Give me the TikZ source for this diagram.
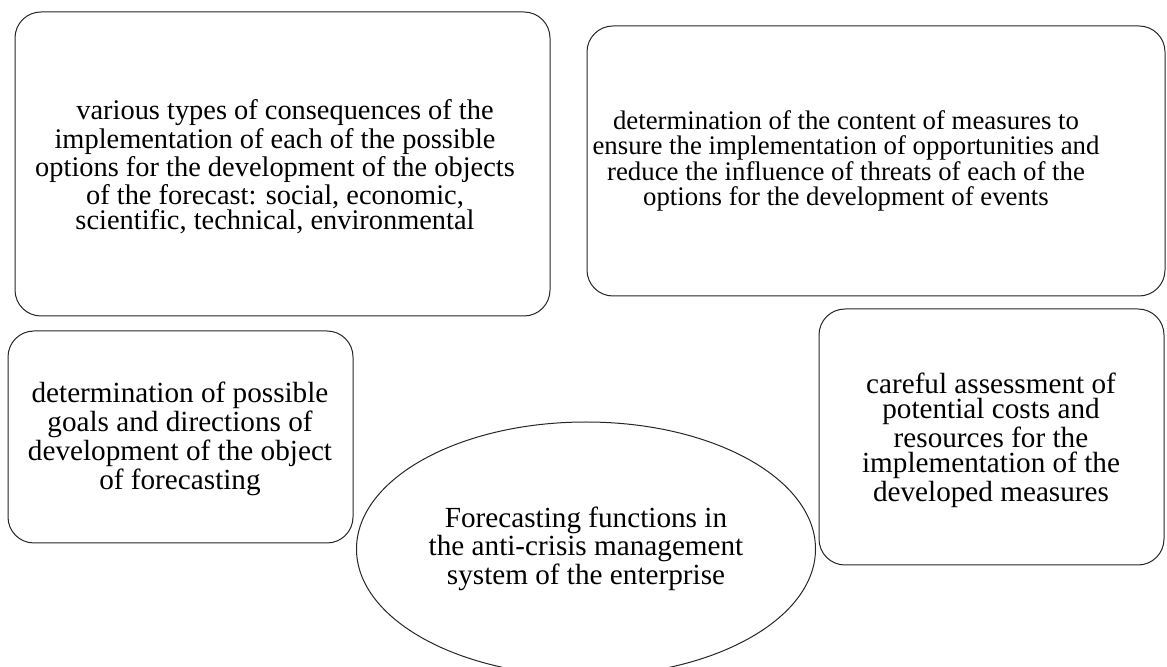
\documentclass[tikz,border=0pt]{standalone}
\usepackage{fontspec}
\setmainfont{Liberation Serif}
\usetikzlibrary{shapes.geometric}
\tikzset{
  funcbox/.style={draw=black!85, line width=0.5pt, rounded corners=13pt},
  functext/.style={align=center, inner sep=0pt,
    font=\fontsize{#1}{12.75}\selectfont},
  functext/.default=14.6,
}

\begin{document}
\begin{tikzpicture}[x=0.5pt,y=-0.5pt]
\useasboundingbox (0,0) rectangle (1167,667);
\clip (0,0) rectangle (1167,667);
% the four boxes
\draw[funcbox] (15,12) rectangle (550,316);
\draw[funcbox] (587,26) rectangle (1165,296);
\draw[funcbox] (8,331) rectangle (353,543);
\draw[funcbox] (819,309) rectangle (1164,565);

\node[functext=14.2] (conseq) at (275,167)
  {\hspace*{10pt}various types of consequences of the\\
   implementation of each of the possible\\
   options for the development of the objects\\
   of the forecast: social, economic,\\
   scientific, technical, environmental};
\node[functext=13.4] (measures) at (846,161)
  {determination of the content of measures to\\
   ensure the implementation of opportunities and\\
   reduce the influence of threats of each of the\\
   options for the development of events};
\node[functext] (goals) at (180,439)
  {determination of possible\\
   goals and directions of\\
   development of the object\\
   of forecasting};
\node[functext] (costs) at (991,440)
  {careful assessment of\\
   potential costs and\\
   resources for the\\
   implementation of the\\
   developed measures};

% centre
\node[functext, draw=black!85, line width=0.5pt, ellipse,
  minimum width=229.5pt, minimum height=127pt] (func) at (586,549)
  {Forecasting functions in\\
   the anti-crisis management\\
   system of the enterprise};
\end{tikzpicture}
\end{document}
